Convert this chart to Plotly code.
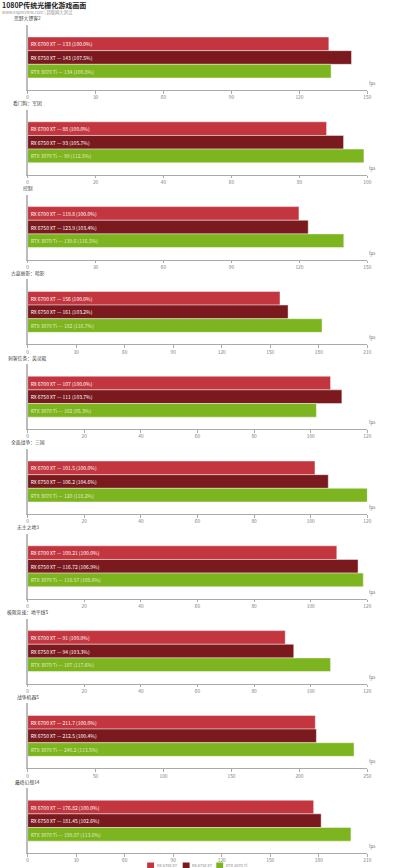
import plotly.graph_objects as go

W, H = 398, 868

games = ["荒野大镖客2", "看门狗：军团", "控制", "古墓丽影：暗影", "刺客信条：英灵殿",
         "全面战争：三国", "无主之地3", "极限竞速：地平线5", "战争机器5", "最终幻想14"]
series = ["RX 6700 XT", "RX 6750 XT", "RTX 3070 Ti"]
rx6700 = [133, 88, 119.8, 156, 107, 101.5, 109.21, 91, 211.7, 176.82]
rx6750 = [143, 93, 123.9, 161, 111, 106.2, 116.72, 94, 212.5, 181.45]
rtx3070ti = [134, 99, 139.6, 182, 102, 120, 118.57, 107, 240.2, 199.87]
axis_max = [150, 100, 150, 210, 120, 120, 120, 120, 250, 210]
axis_step = [30, 20, 30, 30, 20, 20, 20, 20, 50, 30]

colors = ["#c3363f", "#7a1a1f", "#7cb520"]
text_colors = ["#ffffff", "#ffffff", "#e4ecc6"]
FONT = "Noto Sans CJK SC, Noto Sans, sans-serif"

def py(p):
    return 1 - p / H

def px(p):
    return p / W

fig = go.Figure()
annotations = []
shapes = []
layout = {}

all_vals = [rx6700, rx6750, rtx3070ti]
for i, g in enumerate(games):
    yb = 90 + 84.8 * i
    idx = "" if i == 0 else str(i + 1)
    base = rx6700[i]
    for s, name in enumerate(series):
        v = all_vals[s][i]
        pct = v / base * 100
        fig.add_trace(go.Bar(
            x=[v], y=[g], orientation="h", name=name,
            xaxis="x" + idx, yaxis="y" + idx,
            marker=dict(color=colors[s], line=dict(color="rgba(255,255,255,0.55)", width=0.8)),
            text=[f"{name} — {v} ({pct:.1f}%)"],
            textposition="inside", insidetextanchor="start", textangle=0,
            textfont=dict(size=5, color=text_colors[s], family=FONT),
            showlegend=False, hoverinfo="skip",
        ))
    m = axis_max[i]
    st = axis_step[i]
    layout["xaxis" + idx] = dict(
        domain=[px(27), px(371)], anchor="y" + idx, range=[0, m],
        tickvals=list(range(0, m + 1, st)), ticks="outside", ticklen=2.5,
        tickcolor="#aaaaaa", showline=True, linecolor="#aaaaaa", linewidth=1,
        showgrid=False, zeroline=False,
        tickfont=dict(size=4.8, color="#777777", family=FONT), fixedrange=True,
    )
    layout["yaxis" + idx] = dict(
        domain=[py(yb), py(yb - 65)], anchor="x" + idx, type="category",
        range=[0.5, -0.5], showticklabels=False, ticks="",
        showline=True, linecolor="#bbbbbb", linewidth=1.5, showgrid=False,
        zeroline=False, fixedrange=True,
    )
    annotations.append(dict(text=g, x=px(27), y=py(yb - 71.6), xref="paper", yref="paper",
                            xanchor="center", yanchor="middle", showarrow=False, borderpad=0,
                            font=dict(size=4.8, color="#444444", family=FONT)))
    annotations.append(dict(text="fps", x=px(372), y=py(yb - 2), xref="paper", yref="paper",
                            xanchor="left", yanchor="bottom", showarrow=False, borderpad=0,
                            font=dict(size=4.5, color="#777777", family=FONT)))

annotations.append(dict(text="<b>1080P传统光栅化游戏画面</b>", x=px(0), y=py(4.6), xref="paper", yref="paper",
                        xanchor="left", yanchor="middle", showarrow=False, borderpad=0,
                        font=dict(size=7, color="#222222", family=FONT)))
annotations.append(dict(text="www.expreview.com | 超能网大测试", x=px(0), y=py(12), xref="paper", yref="paper",
                        xanchor="left", yanchor="middle", showarrow=False, borderpad=0,
                        font=dict(size=4.3, color="#999999", family=FONT)))

# legend
leg_x = [148, 184, 218]
for s, name in enumerate(series):
    shapes.append(dict(type="rect", xref="paper", yref="paper",
                       x0=px(leg_x[s]), x1=px(leg_x[s] + 7), y0=py(868), y1=py(862.5),
                       fillcolor=colors[s], line=dict(width=0)))
    annotations.append(dict(text=name, x=px(leg_x[s] + 8.5), y=py(865), xref="paper", yref="paper",
                            xanchor="left", yanchor="middle", showarrow=False, borderpad=0,
                            font=dict(size=4.0, color="#888888", family=FONT)))

fig.update_layout(
    width=W, height=H, margin=dict(l=0, r=0, t=0, b=0),
    paper_bgcolor="white", plot_bgcolor="white",
    barmode="group", bargap=0.37, bargroupgap=0,
    annotations=annotations, shapes=shapes,
    font=dict(family=FONT),
    **layout,
)

fig.write_html("out.html", config={"displayModeBar": False},
               post_script="document.body.style.margin='0';document.body.style.overflow='hidden';")
